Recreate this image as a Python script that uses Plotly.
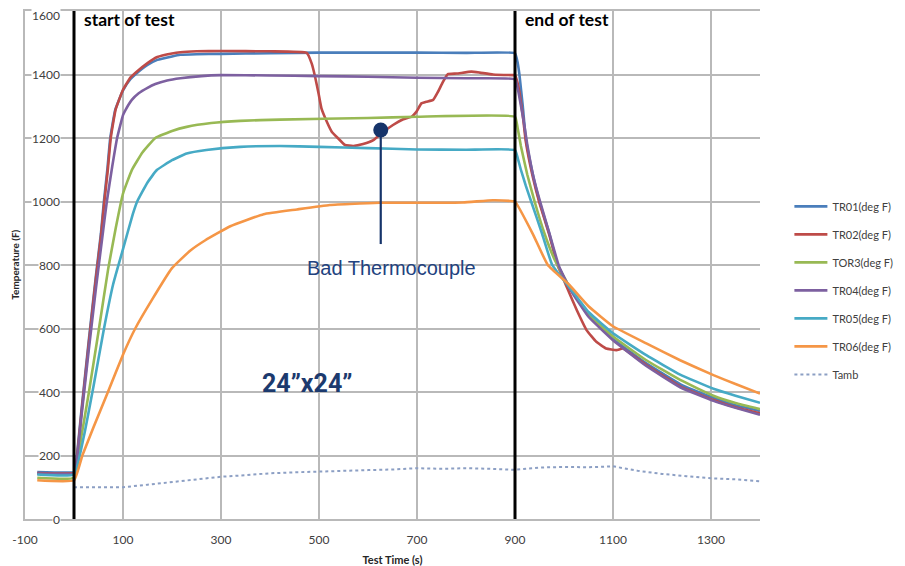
import plotly.graph_objects as go

# ---------------- data ----------------
tr01_t = [-75, 0, 3, 15, 30, 45, 55, 61, 68, 74, 84, 100, 115, 125, 150, 170, 200, 217, 250, 300, 400, 500, 600, 700, 800, 900,
          905, 909, 916, 922, 936, 950, 970, 987, 1013, 1050, 1100, 1168, 1237, 1305, 1350, 1400]
tr01_v = [148, 148, 160, 340, 560, 770, 900, 1000, 1100, 1200, 1288, 1350, 1385, 1400, 1430, 1446, 1457, 1462, 1464, 1465, 1467, 1469, 1469, 1469, 1468, 1467,
          1440, 1400, 1298, 1200, 1088, 1000, 899, 800, 726, 640, 567, 490, 425, 382, 358, 340]

tr02_t = [-75, 0, 3, 15, 30, 45, 55, 62, 69, 75, 85, 100, 115, 125, 150, 170, 200, 217, 250, 300, 400, 475, 485, 492, 499, 505, 516, 526,
          539, 553, 570, 590, 611, 631, 651, 672, 689, 699, 709, 719, 733, 743, 753, 763, 781, 811, 828, 855, 896, 900,
          905, 909, 916, 922, 936, 950, 970, 987, 1010, 1026, 1046, 1066, 1086, 1107, 1120, 1135, 1168, 1237, 1305, 1350, 1400]
tr02_v = [145, 145, 155, 330, 550, 760, 890, 1000, 1100, 1200, 1290, 1352, 1390, 1405, 1436, 1455, 1466, 1470, 1473, 1474, 1473, 1468, 1435, 1393, 1341, 1293, 1251, 1220,
          1199, 1178, 1175, 1181, 1193, 1219, 1241, 1259, 1267, 1283, 1309, 1314, 1320, 1346, 1377, 1401, 1403, 1409, 1406, 1400, 1398, 1398,
          1375, 1345, 1270, 1190, 1080, 995, 895, 800, 715, 658, 595, 558, 537, 532, 537, 522, 485, 418, 375, 352, 333]

tor3_t = [-75, 0, 15, 30, 50, 70, 85, 100, 118, 140, 166, 200, 230, 280, 339, 420, 600, 700, 900,
          905, 912, 925, 940, 960, 980, 1013, 1050, 1100, 1168, 1237, 1305, 1350, 1400]
tor3_v = [130, 130, 260, 395, 590, 790, 915, 1025, 1099, 1155, 1200, 1222, 1235, 1247, 1254, 1258, 1263, 1267, 1267,
          1235, 1175, 1085, 1000, 900, 820, 726, 645, 575, 500, 438, 388, 365, 346]

tr04_t = [-75, 0, 3, 15, 30, 45, 57, 67, 78, 88, 100, 105, 118, 132, 150, 166, 190, 217, 260, 300, 400, 500, 600, 700, 800, 900,
          905, 910, 918, 925, 938, 953, 972, 990, 1013, 1050, 1100, 1168, 1237, 1305, 1350, 1400]
tr04_v = [143, 143, 150, 320, 530, 730, 878, 1000, 1110, 1200, 1272, 1288, 1320, 1341, 1358, 1370, 1381, 1388, 1395, 1398, 1397, 1395, 1393, 1390, 1388, 1385,
          1360, 1320, 1250, 1180, 1075, 990, 890, 795, 722, 637, 563, 482, 415, 372, 350, 328]

tr05_t = [-75, 0, 20, 40, 60, 80, 100, 120, 129, 150, 169, 200, 230, 270, 339, 420, 500, 600, 700, 800, 900,
          905, 912, 922, 933, 955, 976, 1013, 1050, 1100, 1168, 1237, 1305, 1350, 1400]
tr05_v = [140, 140, 260, 420, 590, 740, 850, 960, 1000, 1060, 1099, 1130, 1151, 1162, 1172, 1175, 1172, 1168, 1164, 1163, 1162,
          1140, 1100, 1050, 1000, 900, 800, 726, 652, 585, 516, 455, 410, 388, 366]

tr06_t = [-75, 0, 17, 40, 68, 101, 125, 159, 200, 237, 268, 319, 387, 455, 522, 624, 692, 794, 855, 896, 900,
          936, 967, 1011, 1050, 1100, 1168, 1237, 1305, 1350, 1400]
tr06_v = [122, 122, 200, 290, 395, 521, 600, 690, 790, 845, 878, 922, 960, 975, 989, 996, 996, 997, 1004, 1001, 1000,
          899, 800, 737, 670, 607, 553, 500, 453, 425, 395]

tamb_t = [0, 50, 100, 150, 200, 250, 300, 350, 400, 450, 500, 550, 600, 650, 700, 750, 800, 850, 900,
          950, 1000, 1050, 1100, 1150, 1200, 1250, 1300, 1350, 1400]
tamb_v = [100, 100, 100, 108, 117, 125, 133, 138, 144, 147, 150, 152, 154, 156, 160, 158, 160, 158, 155,
          162, 164, 163, 166, 152, 142, 135, 128, 125, 119]

series_names = ["TR01(deg F)", "TR02(deg F)", "TOR3(deg F)", "TR04(deg F)", "TR05(deg F)", "TR06(deg F)", "Tamb"]
series_colors = ["#4a7ebb", "#be4b48", "#98b954", "#7d60a0", "#46aac5", "#f59646", "#8c9fc4"]

x_ticks = [-100, 100, 300, 500, 700, 900, 1100, 1300]
y_ticks = [0, 200, 400, 600, 800, 1000, 1200, 1400, 1600]

event_times = [0, 900]
event_labels = ["start of test", "end of test"]

callout_x = 626
callout_top = 1225
callout_bottom = 866
callout_text = "Bad Thermocouple"
panel_text = "24\u201dx24\u201d"

# ---------------- figure ----------------
fig = go.Figure()
all_t = [tr01_t, tr02_t, tor3_t, tr04_t, tr05_t, tr06_t]
all_v = [tr01_v, tr02_v, tor3_v, tr04_v, tr05_v, tr06_v]
for i, (t, v) in enumerate(zip(all_t, all_v)):
    fig.add_trace(go.Scatter(x=t, y=v, mode="lines", name=series_names[i], legendgroup=series_names[i],
                             line=dict(color=series_colors[i], width=2.6, shape="spline", smoothing=0.35)))
fig.add_trace(go.Scatter(x=tamb_t, y=tamb_v, mode="lines", name=series_names[6], legendgroup=series_names[6],
                         line=dict(color=series_colors[6], width=2, dash="dot")))

# callout line and dot
navy = "#16346a"
fig.add_trace(go.Scatter(x=[callout_x, callout_x], y=[callout_top, callout_bottom], mode="lines",
                         line=dict(color=navy, width=2.2), showlegend=False, hoverinfo="skip"))
fig.add_trace(go.Scatter(x=[callout_x], y=[callout_top], mode="markers",
                         marker=dict(color=navy, size=15), showlegend=False, hoverinfo="skip"))

for t in event_times:
    fig.add_shape(type="line", x0=t, x1=t, y0=0, y1=1600, xref="x", yref="y",
                  line=dict(color="black", width=3))

for t, lab in zip(event_times, event_labels):
    fig.add_annotation(x=t, y=1572, xref="x", yref="y", text="<b>%s</b>" % lab, showarrow=False,
                       xanchor="left", yanchor="middle", xshift=8,
                       font=dict(family="Lato", size=17.5, color="black"))

fig.add_annotation(x=647, y=790, xref="x", yref="y", text=callout_text, showarrow=False,
                   xanchor="center", yanchor="middle",
                   font=dict(family="Liberation Sans", size=20, color="#22427e"))
fig.add_annotation(x=475, y=428, xref="x", yref="y", text="<b>%s</b>" % panel_text, showarrow=False,
                   xanchor="center", yanchor="middle",
                   font=dict(family="Roboto", size=25, color="#1c3a6e"))

# y tick labels (white background, right-aligned inside plot)
for v in y_ticks:
    fig.add_annotation(x=0.049, y=v, xref="paper", yref="y", text=str(v), showarrow=False,
                       xanchor="right", yanchor="middle", bgcolor="white", borderpad=0,
                       yshift=(-4 if v == y_ticks[-1] else 0),
                       font=dict(family="Lato", size=12, color="#404040"))

# y axis title
fig.add_annotation(x=-0.014, y=0.5, xref="paper", yref="paper", text="<b>Temperature (F)</b>",
                   textangle=-90, showarrow=False, xanchor="center", yanchor="middle",
                   font=dict(family="Lato", size=10, color="#262626"))

grid = "#b9b9b9"
# the page body adds an 8px margin, so the figure is 8px smaller and margins shifted
fig.update_layout(
    width=897, height=558,
    margin=dict(l=17, r=145, t=3, b=47, autoexpand=False),
    paper_bgcolor="white", plot_bgcolor="white",
    font=dict(family="Lato", color="#404040"),
    xaxis=dict(range=[-100, 1400], tickmode="array", tickvals=x_ticks, ticktext=[str(v) for v in x_ticks],
               showgrid=True, gridcolor=grid, gridwidth=2, zeroline=False,
               showline=True, linecolor=grid, linewidth=2, mirror=True,
               ticks="", ticklabelstandoff=9,
               tickfont=dict(family="Lato", size=12, color="#404040"),
               title=dict(text="<b>Test Time (s)</b>", standoff=14,
                          font=dict(family="Lato", size=11, color="#262626"))),
    yaxis=dict(range=[0, 1600], tickmode="array", tickvals=y_ticks,
               showgrid=True, gridcolor=grid, gridwidth=2, zeroline=False,
               showline=True, linecolor=grid, linewidth=2,
               showticklabels=False, ticks=""),
    legend=dict(x=1.04, y=0.45, xanchor="left", yanchor="middle",
                font=dict(family="Lato", size=11, color="#404040"),
                itemwidth=33, tracegroupgap=9, bgcolor="rgba(0,0,0,0)"),
    showlegend=True,
)

fig.write_html("out.html")
